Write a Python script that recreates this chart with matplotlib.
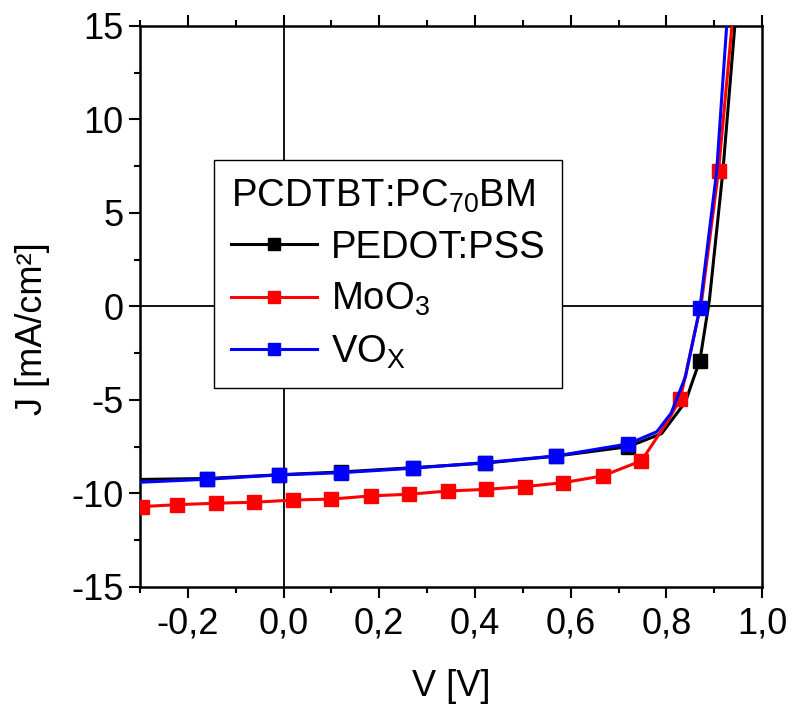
import matplotlib
matplotlib.use('Agg')
import matplotlib.pyplot as plt
from matplotlib.ticker import MultipleLocator, FuncFormatter

plt.rcParams['font.family'] = ['Liberation Sans', 'DejaVu Sans']
plt.rcParams['mathtext.fontset'] = 'custom'
plt.rcParams['mathtext.rm'] = 'Liberation Sans'
plt.rcParams['mathtext.it'] = 'Liberation Sans'

# J-V curves
v_pedot = [-0.30, -0.16, -0.01, 0.12, 0.27, 0.42, 0.57, 0.72, 0.79, 0.84, 0.856, 0.87, 0.89, 0.918, 0.943]
j_pedot = [-9.25, -9.2, -9.0, -8.85, -8.62, -8.38, -8.0, -7.5, -6.8, -5.1, -3.9, -2.9, 0.35, 7.2, 15.0]
mk_pedot = [1, 2, 3, 4, 5, 6, 7, 11]

v_moo3 = [-0.296, -0.222, -0.141, -0.061, 0.020, 0.100, 0.182, 0.263, 0.343, 0.423,
          0.505, 0.585, 0.667, 0.748, 0.80, 0.829, 0.874, 0.909, 0.937]
j_moo3 = [-10.7, -10.6, -10.52, -10.47, -10.35, -10.3, -10.13, -10.04, -9.87, -9.78,
          -9.63, -9.42, -9.06, -8.25, -6.25, -4.96, 0.35, 7.25, 15.0]
mk_moo3 = [0, 1, 2, 3, 4, 5, 6, 7, 8, 9, 10, 11, 12, 13, 15, 17]

v_vox = [-0.30, -0.16, -0.01, 0.12, 0.27, 0.42, 0.57, 0.72, 0.78, 0.81, 0.84, 0.87, 0.905, 0.926]
j_vox = [-9.4, -9.24, -9.01, -8.89, -8.65, -8.35, -7.99, -7.35, -6.7, -5.7, -3.75, -0.1, 7.2, 15.0]
mk_vox = [1, 2, 3, 4, 5, 6, 7, 11]

fig = plt.figure(figsize=(7.92, 7.06), dpi=100)
ax = fig.add_axes([0.1768, 0.1686, 0.7854, 0.7946])

ax.axhline(0, color='black', lw=1.3, zorder=1)
ax.axvline(0, color='black', lw=1.3, zorder=1)

ax.plot(v_pedot, j_pedot, '-s', color='black', lw=2.2, ms=10, markevery=mk_pedot,
        label='PEDOT:PSS', zorder=3)
ax.plot(v_moo3, j_moo3, '-s', color='#ff0000', lw=2.2, ms=10, markevery=mk_moo3,
        label='MoO$_3$', zorder=3)
ax.plot(v_vox, j_vox, '-s', color='#0000ff', lw=2.2, ms=10, markevery=mk_vox,
        label='VO$_\\mathrm{X}$', zorder=4)

ax.set_xlim(-0.3, 1.0)
ax.set_ylim(-15, 15)

ax.xaxis.set_major_locator(MultipleLocator(0.2))
ax.xaxis.set_minor_locator(MultipleLocator(0.1))
ax.yaxis.set_major_locator(MultipleLocator(5))
ax.yaxis.set_minor_locator(MultipleLocator(2.5))
ax.xaxis.set_major_formatter(FuncFormatter(lambda x, p: ('%.1f' % x).replace('.', ',').replace('-0,0', '0,0')))
ax.yaxis.set_major_formatter(FuncFormatter(lambda y, p: '%d' % round(y)))

ax.tick_params(which='both', direction='out', top=True, right=False, labelsize=26, width=1.5)
ax.tick_params(which='major', length=8)
ax.tick_params(which='minor', length=4)
ax.tick_params(axis='x', pad=6)
ax.tick_params(axis='y', pad=4)
for s in ax.spines.values():
    s.set_linewidth(1.8)

ax.set_xlabel('V [V]', fontsize=26, labelpad=20)
ax.set_ylabel('J [mA/cm²]', fontsize=26)
ax.yaxis.set_label_coords(-0.145, 0.46)

leg = ax.legend(loc='upper left', bbox_to_anchor=(0.119, 0.761), borderaxespad=0,
                title='PCDTBT:PC$_{70}$BM', fontsize=27.5, title_fontsize=27.5,
                alignment='left', fancybox=False, edgecolor='black', framealpha=1,
                handlelength=2.25, handletextpad=0.35, labelspacing=0.4,
                borderpad=0.45, markerscale=0.8)
leg.get_frame().set_linewidth(1.0)

fig.savefig('out.png', dpi=100)
